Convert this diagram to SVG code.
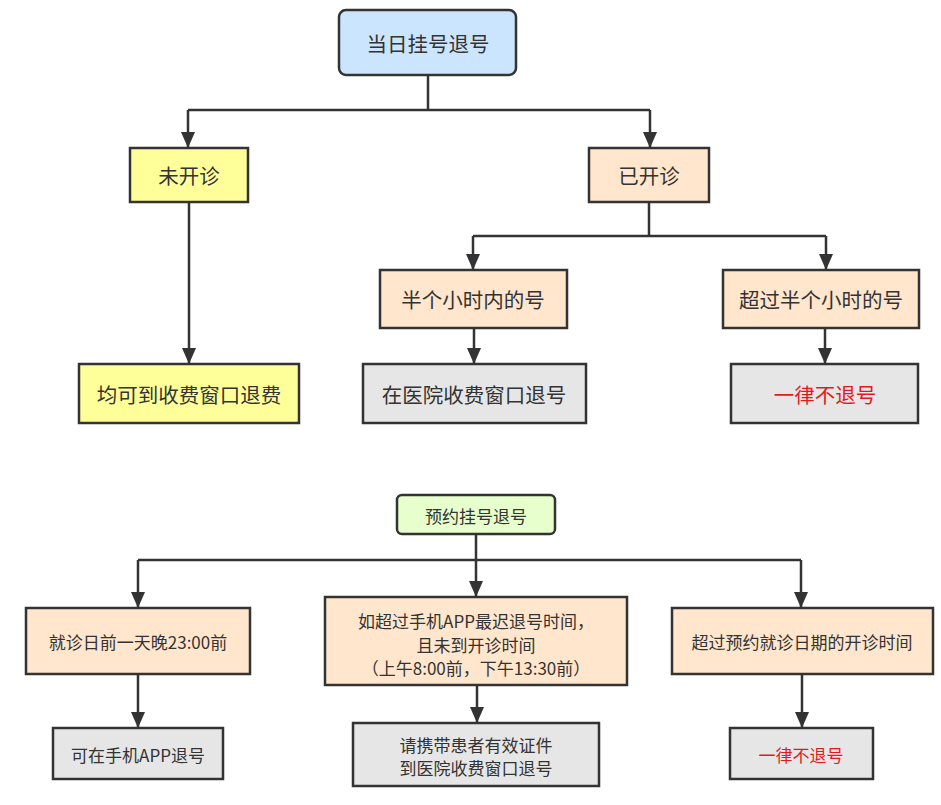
<svg xmlns="http://www.w3.org/2000/svg" width="941" height="805" viewBox="0 0 941 805">
<style>
.box{stroke:#333;stroke-width:2.5}
.blue{fill:#cce5ff}.yellow{fill:#ffff99}.peach{fill:#ffe6cc}.gray{fill:#e6e6e6}.green{fill:#e6ffcc}
text{font-family:"Noto Sans CJK SC","Noto Sans",sans-serif;fill:#333;text-anchor:middle;dominant-baseline:central}
.big{font-size:20.5px}.small{font-size:17px}.red{fill:#e31a1c}
.c{fill:none;stroke:#333;stroke-width:2.5}
</style>
<defs>
<marker id="ah" markerUnits="userSpaceOnUse" markerWidth="16" markerHeight="16" refX="16" refY="7" orient="auto">
<path d="M0,0 L16,7 L0,14 Z" fill="#333"/>
</marker>
</defs>
<rect width="941" height="805" fill="#fff"/>
<g id="connectors">
<path class="c" d="M428,75 V110"/>
<path class="c" d="M188,110 H650"/>
<path class="c" d="M188,110 V148" marker-end="url(#ah)"/>
<path class="c" d="M650,110 V148" marker-end="url(#ah)"/>
<path class="c" d="M189,202 V364" marker-end="url(#ah)"/>
<path class="c" d="M649,202 V236"/>
<path class="c" d="M473,236 H826"/>
<path class="c" d="M473,236 V270" marker-end="url(#ah)"/>
<path class="c" d="M826,236 V270" marker-end="url(#ah)"/>
<path class="c" d="M474,328 V364" marker-end="url(#ah)"/>
<path class="c" d="M825,328 V364" marker-end="url(#ah)"/>
<path class="c" d="M476,534 V560"/>
<path class="c" d="M138,560 H801"/>
<path class="c" d="M138,560 V608" marker-end="url(#ah)"/>
<path class="c" d="M476,560 V597" marker-end="url(#ah)"/>
<path class="c" d="M801,560 V608" marker-end="url(#ah)"/>
<path class="c" d="M138,674 V728" marker-end="url(#ah)"/>
<path class="c" d="M477,685 V723" marker-end="url(#ah)"/>
<path class="c" d="M802,674 V728" marker-end="url(#ah)"/>
</g>
<g id="n_today"><rect class="box blue" x="339" y="10" width="177" height="65" rx="7"/><text class="big" x="428" y="43">当日挂号退号</text></g>
<g id="n_notstarted"><rect class="box yellow" x="130" y="148" width="118" height="54"/><text class="big" x="189" y="175">未开诊</text></g>
<g id="n_started"><rect class="box peach" x="589" y="148" width="120" height="54"/><text class="big" x="649" y="175">已开诊</text></g>
<g id="n_refundall"><rect class="box yellow" x="79" y="364" width="220" height="59"/><text class="big" x="189" y="394">均可到收费窗口退费</text></g>
<g id="n_halfin"><rect class="box peach" x="380" y="270" width="187" height="58"/><text class="big" x="473" y="299">半个小时内的号</text></g>
<g id="n_halfover"><rect class="box peach" x="723" y="270" width="196" height="58"/><text class="big" x="821" y="299">超过半个小时的号</text></g>
<g id="n_window"><rect class="box gray" x="363" y="364" width="223" height="59"/><text class="big" x="474" y="394">在医院收费窗口退号</text></g>
<g id="n_norefund1"><rect class="box gray" x="731" y="364" width="187" height="59"/><text class="big red" x="825" y="394">一律不退号</text></g>
<g id="n_appoint"><rect class="box green" x="397" y="495" width="158" height="39" rx="5"/><text class="small" x="476" y="515">预约挂号退号</text></g>
<g id="n_before23"><rect class="box peach" x="26" y="608" width="224" height="66"/><text class="small" x="138" y="641">就诊日前一天晚23:00前</text></g>
<g id="n_overapp"><rect class="box peach" x="325" y="597" width="302" height="88"/><text class="small" x="476" y="620">如超过手机APP最迟退号时间，</text><text class="small" x="476" y="644">且未到开诊时间</text><text class="small" x="476" y="667">（上午8:00前，下午13:30前）</text></g>
<g id="n_overdate"><rect class="box peach" x="672" y="608" width="261" height="66"/><text class="small" x="802" y="641">超过预约就诊日期的开诊时间</text></g>
<g id="n_app"><rect class="box gray" x="53" y="728" width="170" height="51"/><text class="small" x="138" y="754">可在手机APP退号</text></g>
<g id="n_bring"><rect class="box gray" x="353" y="723" width="246" height="63"/><text class="small" x="476" y="744">请携带患者有效证件</text><text class="small" x="476" y="767">到医院收费窗口退号</text></g>
<g id="n_norefund2"><rect class="box gray" x="730" y="728" width="143" height="51"/><text class="small red" x="801" y="754">一律不退号</text></g>
</svg>
